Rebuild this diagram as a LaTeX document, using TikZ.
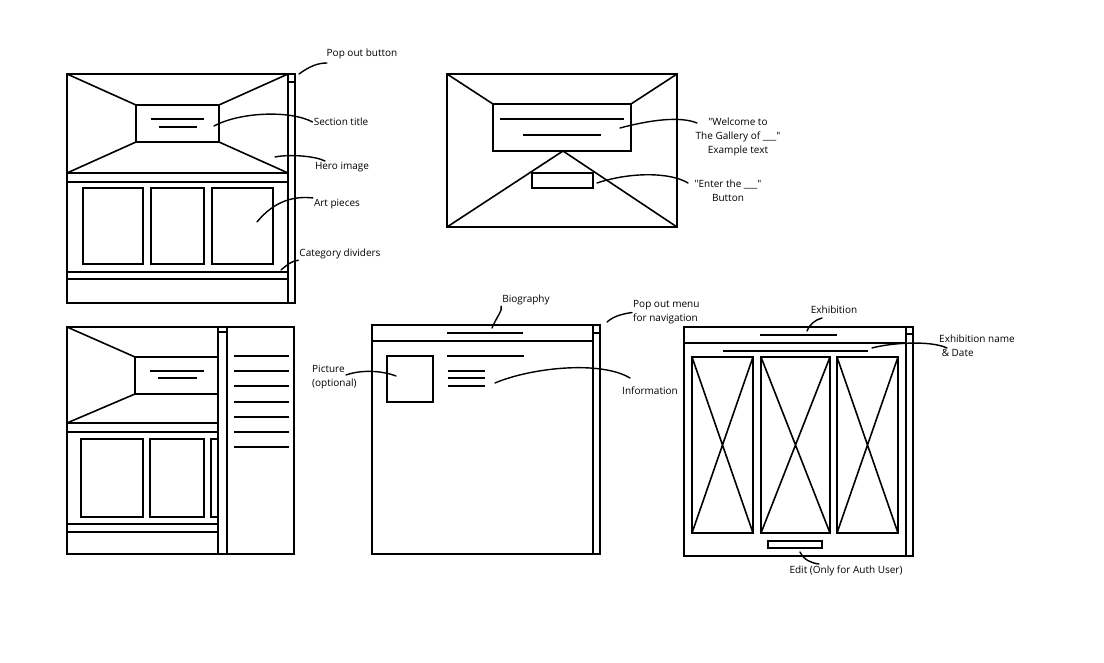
\documentclass[tikz,border=0pt]{standalone}
\usepackage{fontspec}
\setmainfont{Open Sans}
\tikzset{
  frame/.style={line width=1.6pt},
  thin/.style={line width=1.2pt},
  lead/.style={line width=1.4pt, line cap=round},
  lbl/.style={font=\fontsize{10}{14}\selectfont, inner sep=1pt}
}
\begin{document}
\begin{tikzpicture}[x=1pt,y=-1pt]
  \useasboundingbox (0,0) rectangle (1104,663);

  % home page (top left)
  \scope
  \draw[frame] (67,74) rectangle (295,303) (288,74) -- (288,303);
  \draw[thin] (288,82) -- (295,82);
  \draw[frame] (136,105) rectangle (219,142);
  \draw[frame] (67,74) -- (136,105) (288,74) -- (219,105)
    (67,173) -- (136,142) (288,173) -- (219,142);
  \draw[frame] (67,173) -- (288,173) (67,182) -- (288,182);
  \draw[thin] (151,119) -- (204,119) (159,127) -- (197,127);
  \foreach \l/\r in {83/143,151/204,212/273}
    \draw[frame] (\l,188) rectangle (\r,264);
  \draw[frame] (66,272) -- (288,272) (67,279) -- (288,279);
  \endscope

  % landing page (top middle)
  \scope
  \draw[frame] (447,74) rectangle (677,227);
  \draw[frame] (493,104) rectangle (631,151);
  \draw[frame] (447,74) -- (493,104) (677,74) -- (631,104)
    (447,227) -- (563,151) -- (677,227);
  \draw[thin] (500,119) -- (624,119) (523,135) -- (601,135);
  \draw[frame] (532,173) rectangle (593,188);
  \endscope

  % home page with menu open (bottom left)
  \scope
  \draw[frame] (67,327) rectangle (294,554)
    (218,327) -- (218,554) (227,327) -- (227,554);
  \draw[thin] (218,332) -- (227,332);
  \draw[frame] (67,327) -- (135,357) (67,423) -- (135,394)
    (218,357) -- (135,357) -- (135,394) -- (218,394);
  \draw[frame] (67,423) -- (218,423) (67,432) -- (218,432);
  \draw[thin] (150,371) -- (204,371) (158,378) -- (197,378);
  \foreach \l/\r in {81/143,150/204}
    \draw[frame] (\l,439) rectangle (\r,517);
  \draw[frame] (218,439) -- (211,439) -- (211,517) -- (218,517);
  \draw[frame] (67,524) -- (218,524) (67,532) -- (218,532);
  \foreach \y in {356,371,386,402,417,432,447}
    \draw[thin] (234,\y) -- (289,\y);
  \endscope

  % biography page (bottom middle)
  \scope
  \draw[frame] (372,325) rectangle (600,554)
    (593,325) -- (593,554) (372,341) -- (593,341);
  \draw[thin] (593,333) -- (600,333);
  \draw[thin] (447,333) -- (523,333) (447,356) -- (524,356);
  \draw[frame] (387,356) rectangle (433,402);
  \foreach \y in {371,378,386}
    \draw[thin] (448,\y) -- (485,\y);
  \endscope

  % exhibition page (bottom right)
  \scope
  \draw[frame] (684,327) rectangle (913,556)
    (906,327) -- (906,556) (684,343) -- (906,343);
  \draw[thin] (906,334) -- (913,334);
  \draw[thin] (760,335) -- (837,335) (723,351) -- (868,351);
  \foreach \l/\r in {692/753,761/830,837/898}
    \draw[frame] (\l,357) rectangle (\r,533)
      (\l,357) -- (\r,533) (\r,357) -- (\l,533);
  \draw[frame] (768,541) rectangle (822,548);
  \endscope

  % labels
  \node[lbl] (popbtn) at (362,54) {Pop out button};
  \node[lbl] (sectitle) at (341,122) {Section title};
  \node[lbl] (hero) at (342,167) {Hero image};
  \node[lbl] (artpcs) at (337,204) {Art pieces};
  \node[lbl] (catdiv) at (340,254) {Category dividers};
  \node[lbl, align=center] (welcome) at (738,137)
    {\textquotedbl Welcome to\\The Gallery of \_\_\_\textquotedbl\\Example text};
  \node[lbl, align=center] (enter) at (728,190.5)
    {\textquotedbl Enter the \_\_\_\textquotedbl\\Button};
  \node[lbl] (bio) at (526,300) {Biography};
  \node[lbl, align=left, anchor=west] (popmenu) at (632,312.5)
    {Pop out menu\\for navigation};
  \node[lbl, align=left, anchor=west] (picture) at (311,377)
    {Picture\\(optional)};
  \node[lbl] (info) at (650,391) {Information};
  \node[lbl] (exhib) at (834,310) {Exhibition};
  \node[lbl, align=left, anchor=west] (exname) at (938,346)
    {Exhibition name\\\ \& Date};
  \node[lbl] (edit) at (846,571) {Edit (Only for Auth User)};

  % leader lines
  \coordinate (popend) at (327,63);
  \coordinate (welend) at (697,123);
  \coordinate (enterend) at (688,183);
  \coordinate (exhend) at (822,318);
  \coordinate (exend) at (947,348);
  \coordinate (editend) at (819,564);
  \draw[lead] (299,74) .. controls (310,66) and (318,63) .. (popend);
  \draw[lead] (214,126) .. controls (240,112) and (290,110) .. (sectitle.west);
  \draw[lead] (275,157) .. controls (290,154) and (315,156) .. (325,161);
  \draw[lead] (257,222) .. controls (275,200) and (295,196) .. (artpcs.north west);
  \draw[lead] (281,270) .. controls (288,264) and (292,261) .. (catdiv.south west);
  \draw[lead] (620,128) .. controls (650,120) and (680,116) .. (welend);
  \draw[lead] (597,183) .. controls (630,172) and (670,172) .. (enterend);
  \draw[lead] (492,328) .. controls (496,318) and (503,310) .. (bio.south west);
  \draw[lead] (607,322) .. controls (614,316) and (622,314) .. (popmenu.west);
  \draw[lead] (396,376) .. controls (380,370) and (360,370) .. (346,375);
  \draw[lead] (495,383) .. controls (530,368) and (600,360) .. (630,378);
  \draw[lead] (807,331) .. controls (810,324) and (815,320) .. (exhend);
  \draw[lead] (872,348) .. controls (890,343) and (930,340) .. (exend);
  \draw[lead] (800,552) .. controls (804,560) and (811,563) .. (editend);
\end{tikzpicture}
\end{document}
